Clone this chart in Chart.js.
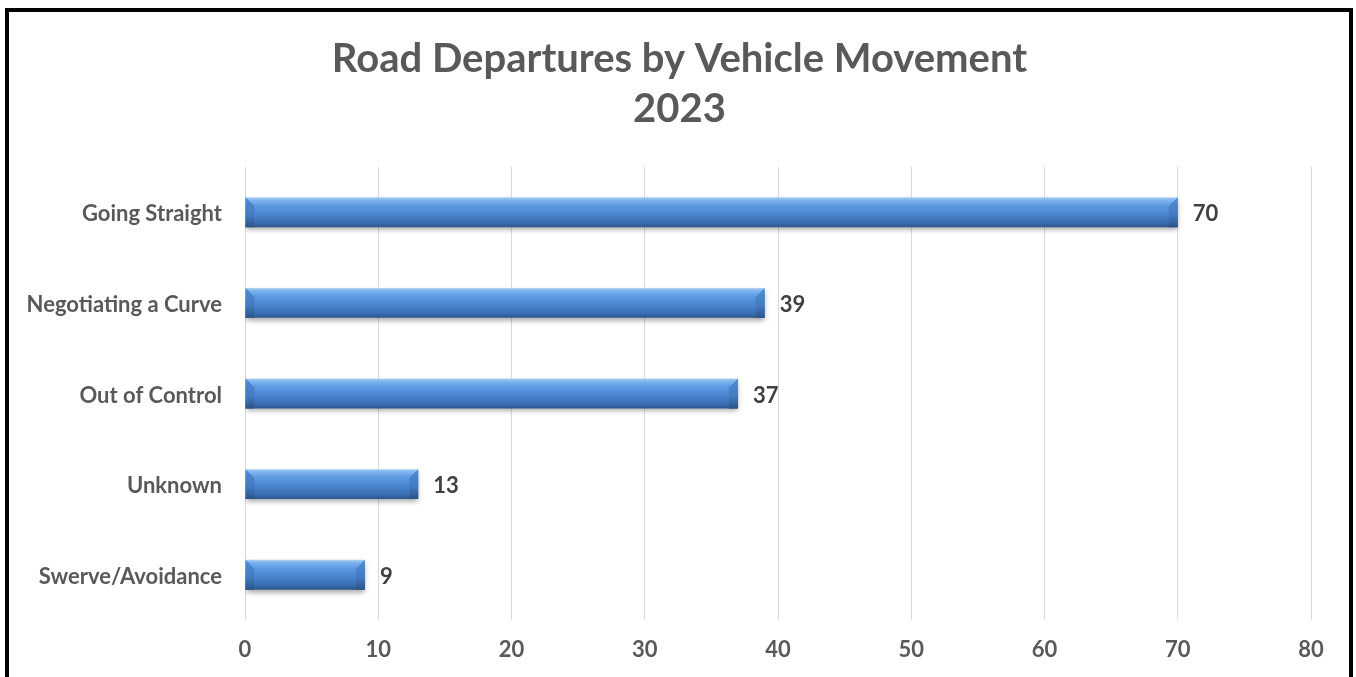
<!DOCTYPE html>
<html>
<head>
<meta charset="utf-8">
<title>Road Departures by Vehicle Movement 2023</title>
<script src="https://cdn.jsdelivr.net/npm/chart.js@4.4.1/dist/chart.umd.min.js"></script>
<style>
    html, body { margin: 0; padding: 0; background: #fff; overflow: hidden; }
    #wrap { position: relative; width: 1356px; height: 677px; }
    #frame {
        position: absolute; left: 5px; top: 8px; width: 1340px; height: 720px;
        border: 4px solid #000; pointer-events: none;
    }
    canvas { position: absolute; left: 0; top: 0; }
</style>
</head>
<body>
<div id="wrap">
    <canvas id="movementChart" width="1356" height="677"></canvas>
    <div id="frame"></div>
</div>
<script>
// Road departures by vehicle movement, 2023
const movements = ["Going Straight", "Negotiating a Curve", "Out of Control", "Unknown", "Swerve/Avoidance"];
const departures = [70, 39, 37, 13, 9];
const xTicks = [0, 10, 20, 30, 40, 50, 60, 70, 80];

const fontFamily = "Lato, 'Noto Sans', sans-serif";
const textGray = '#595959';

function tubeGradient(ctx, top, h) {
    const g = ctx.createLinearGradient(0, top, 0, top + h);
    g.addColorStop(0, '#b4d2f0');
    g.addColorStop(0.08, '#80b6ef');
    g.addColorStop(0.28, '#5c9be3');
    g.addColorStop(0.55, '#4a86d0');
    g.addColorStop(0.85, '#3b6eb2');
    g.addColorStop(1, '#2c558c');
    return g;
}

function endGradient(ctx, top, h) {
    const g = ctx.createLinearGradient(0, top, 0, top + h);
    g.addColorStop(0, '#4f8cd5');
    g.addColorStop(0.6, '#437ac0');
    g.addColorStop(1, '#2b5388');
    return g;
}

// the title sits centred over the frame, not over the plot
const titleShift = {
    id: 'titleShift',
    afterLayout(chart) {
        if (chart.titleBlock) chart.titleBlock.left = 48;
    }
};

// gives each bar a rounded "tube" look: light top edge, darker bottom, bevelled ends
const tubeBars = {
    id: 'tubeBars',
    beforeDatasetsDraw(chart) {
        const ctx = chart.ctx;
        chart.getDatasetMeta(0).data.forEach(bar => {
            const top = bar.y - bar.height / 2;
            bar.options = Object.assign({}, bar.options, {
                backgroundColor: tubeGradient(ctx, top, bar.height)
            });
        });
        ctx.save();
        ctx.shadowColor = 'rgba(0,0,0,0.35)';
        ctx.shadowBlur = 5;
        ctx.shadowOffsetY = 3;
    },
    afterDatasetsDraw(chart) {
        const ctx = chart.ctx;
        ctx.restore();
        ctx.save();
        chart.getDatasetMeta(0).data.forEach(bar => {
            const top = bar.y - bar.height / 2;
            const h = bar.height;
            const left = bar.base;
            const right = bar.x;
            const b = Math.min(9, h * 0.3);
            ctx.fillStyle = endGradient(ctx, top, h);
            ctx.beginPath();
            ctx.moveTo(left, top);
            ctx.lineTo(left + b, top + b);
            ctx.lineTo(left + b, top + h);
            ctx.lineTo(left, top + h);
            ctx.closePath();
            ctx.fill();
            ctx.beginPath();
            ctx.moveTo(right, top);
            ctx.lineTo(right - b, top + b);
            ctx.lineTo(right - b, top + h);
            ctx.lineTo(right, top + h);
            ctx.closePath();
            ctx.fill();
        });
        ctx.restore();
    }
};

// value written just past the end of each bar
const barValues = {
    id: 'barValues',
    afterDatasetsDraw(chart) {
        const ctx = chart.ctx;
        const ds = chart.data.datasets[0];
        ctx.save();
        ctx.font = 'bold 22px ' + fontFamily;
        ctx.fillStyle = '#404040';
        ctx.textAlign = 'left';
        ctx.textBaseline = 'middle';
        chart.getDatasetMeta(0).data.forEach((bar, i) => {
            ctx.fillText(ds.data[i], bar.x + 15, bar.y + 2);
        });
        ctx.restore();
    }
};

new Chart(document.getElementById('movementChart'), {
    type: 'bar',
    data: {
        labels: movements,
        datasets: [{
            data: departures,
            backgroundColor: '#4a86cf',
            borderWidth: 0,
            barPercentage: 0.33,
            categoryPercentage: 1
        }]
    },
    options: {
        indexAxis: 'y',
        responsive: false,
        animation: false,
        layout: { padding: { left: 0, right: 45, top: 0, bottom: 0 } },
        plugins: {
            legend: { display: false },
            tooltip: { enabled: false },
            title: {
                display: true,
                text: ['Road Departures by Vehicle Movement', '2023'],
                color: textGray,
                font: { family: fontFamily, size: 40, weight: 'bold', lineHeight: 1.25 },
                padding: { top: 34, bottom: 33 }
            }
        },
        scales: {
            x: {
                min: 0,
                max: 80,
                afterBuildTicks(scale) {
                    scale.ticks = xTicks.map(v => ({ value: v }));
                },
                afterFit(scale) { scale.height = 57; },
                grid: { color: '#d9d9d9', lineWidth: 1, drawTicks: false },
                border: { display: false },
                ticks: {
                    color: textGray,
                    padding: 17,
                    font: { family: fontFamily, size: 22, weight: 'bold' }
                }
            },
            y: {
                afterFit(scale) { scale.width = 245; },
                grid: { display: false },
                border: { display: false },
                ticks: {
                    color: textGray,
                    padding: 15,
                    labelOffset: 2,
                    font: { family: fontFamily, size: 22, weight: 'bold' }
                }
            }
        }
    },
    plugins: [titleShift, tubeBars, barValues]
});
</script>
</body>
</html>
